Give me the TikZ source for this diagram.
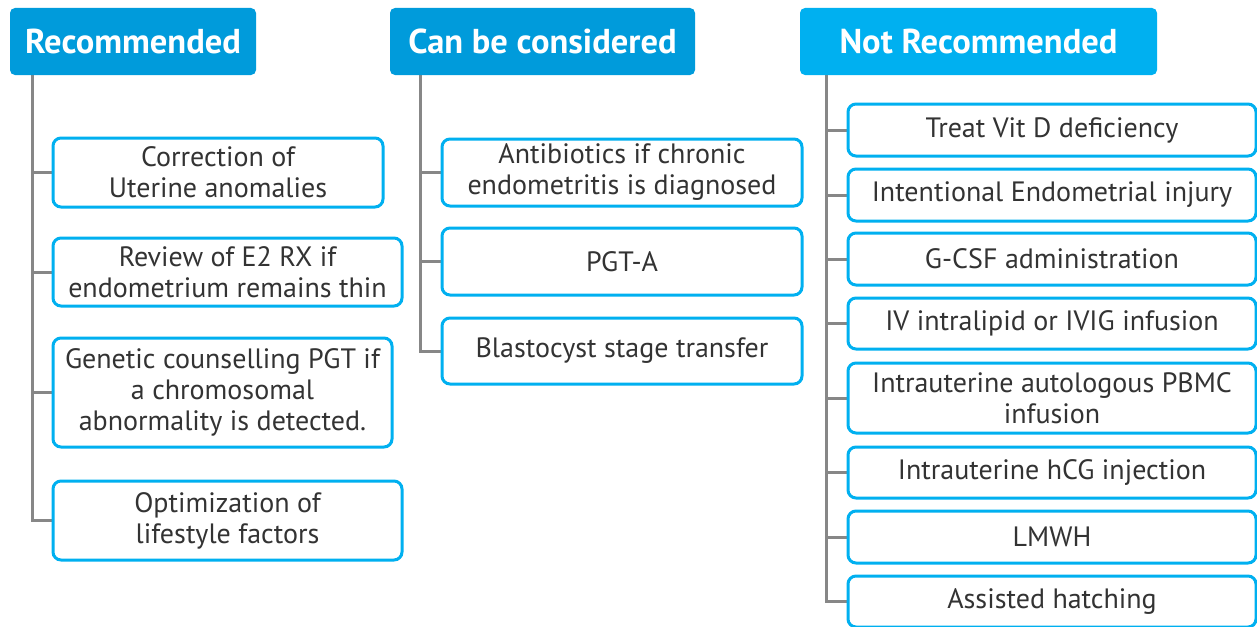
\documentclass[tikz,border=0pt]{standalone}
\usepackage{fontspec}
\setmainfont{PT Sans}
\usetikzlibrary{backgrounds}
\definecolor{hdark}{HTML}{009BDB}
\definecolor{hlight}{HTML}{00B0F0}
\definecolor{bordc}{HTML}{00B0F0}
\definecolor{connc}{HTML}{878787}
\definecolor{txtc}{HTML}{333333}
\tikzset{
  hdr/.style={fill=#1, draw=none, rounded corners=5pt, text=white, inner sep=0pt,
    font=\fontsize{34.5}{38}\selectfont\bfseries},
  item/.style={draw=bordc, line width=3pt, fill=white, rounded corners=8pt, inner sep=0pt,
    text=txtc, align=center, font=\fontsize{28}{31}\selectfont},
  conn/.style={draw=connc, line width=3pt},
}
\newcommand{\bx}[7]{% name, x1, y1, x2, y2, style, text
  \node[#6, minimum width={(#4-#2)*1pt}, minimum height={(#5-#3)*1pt}] (#1) at ({(#2+#4)/2},{(#3+#5)/2}) {#7};}
\begin{document}
\begin{tikzpicture}[x=1pt, y=-1pt]
\useasboundingbox (0,0) rectangle (1257,626);
\clip (0,0) rectangle (1257,626);
% trunk positions
\coordinate (t1) at (32,0);
\coordinate (t2) at (420,0);
\coordinate (t3) at (826,0);
\bx{h1}{10}{8}{256}{75}{hdr=hdark}{Recommended}
\bx{h2}{390}{8}{695}{75}{hdr=hdark}{Can be considered}
\bx{h3}{800}{8}{1157}{75}{hdr=hlight}{Not Recommended}
% left column
\bx{a1}{53}{138}{383}{207}{item}{Correction of\\Uterine anomalies}
\bx{a2}{53}{238}{402}{306}{item}{Review of E2 RX if\\endometrium remains thin}
\bx{a3}{53}{338}{392}{447}{item}{Genetic counselling PGT if\\a chromosomal\\abnormality is detected.}
\bx{a4}{53}{481}{402}{560}{item}{Optimization of\\lifestyle factors}
% middle column
\bx{b1}{442}{139}{802}{206}{item}{Antibiotics if chronic\\endometritis is diagnosed}
\bx{b2}{442}{228}{802}{295}{item}{PGT-A}
\bx{b3}{442}{318}{802}{384}{item}{Blastocyst stage transfer}
% right column
\bx{c1}{848}{104}{1256}{156}{item}{Treat Vit D deficiency}
\bx{c2}{848}{169}{1256}{221}{item}{Intentional Endometrial injury}
\bx{c3}{848}{233}{1256}{285}{item}{G-CSF administration}
\bx{c4}{848}{298}{1256}{349}{item}{IV intralipid or IVIG infusion}
\bx{c5}{848}{363}{1256}{433}{item}{Intrauterine autologous PBMC\\infusion}
\bx{c6}{848}{447}{1256}{498}{item}{Intrauterine hCG injection}
\bx{c7}{848}{511}{1256}{563}{item}{LMWH}
\bx{c8}{848}{576}{1256}{627}{item}{Assisted hatching}
\begin{scope}[on background layer]
\fill[white] (0,0) rectangle (1257,626);
\foreach \b in {a1,a2,a3,a4} {\draw[conn] (h1.south -| t1) |- (\b.west);}
\foreach \b in {b1,b2,b3} {\draw[conn] (h2.south -| t2) |- (\b.west);}
\foreach \b in {c1,c2,c3,c4,c5,c6,c7,c8} {\draw[conn] (h3.south -| t3) |- (\b.west);}
\end{scope}
\end{tikzpicture}
\end{document}
